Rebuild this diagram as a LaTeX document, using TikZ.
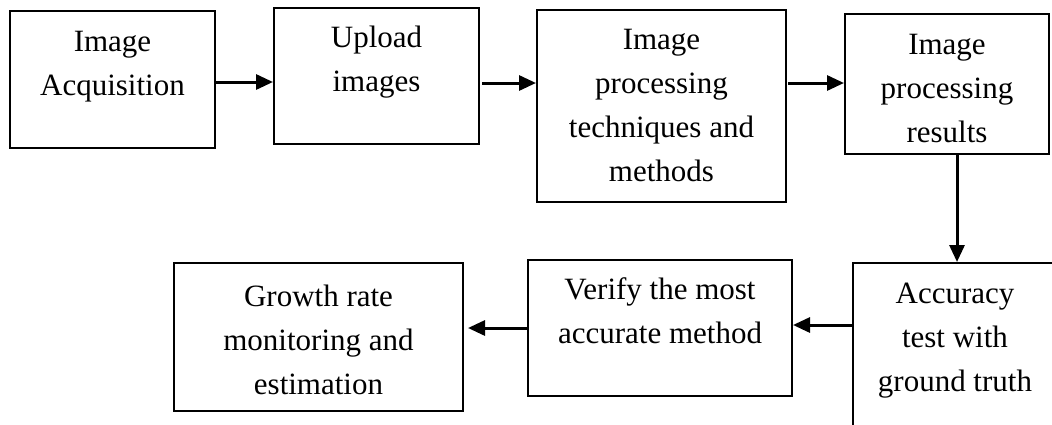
\documentclass[tikz,border=0pt]{standalone}
\usepackage{fontspec}
\setmainfont{Liberation Serif}
\usetikzlibrary{arrows.meta}
\tikzset{
  box/.style={draw, line width=2pt, rectangle, inner sep=0pt},
  lbl/.style={font=\fontsize{31}{44}\selectfont, align=center, anchor=north, inner sep=0pt},
  arr/.style={line width=3pt, -{Triangle[length=17pt,width=15pt]}},
}
\begin{document}
\begin{tikzpicture}[x=1pt,y=-1pt]
\useasboundingbox (0,0) rectangle (1052,424);
\clip (0,0) rectangle (1052,424);
% boxes
\node[box, minimum width=205pt, minimum height=137pt] (b1) at (112.5,79.5) {};
\node[box, minimum width=205pt, minimum height=136pt] (b2) at (376.5,76) {};
\node[box, minimum width=249pt, minimum height=192pt] (b3) at (661.5,106) {};
\node[box, minimum width=204pt, minimum height=140pt] (b4) at (947,84) {};
\node[box, minimum width=204pt, minimum height=177pt] (b5) at (955,351.5) {};
\node[box, minimum width=264pt, minimum height=136pt] (b6) at (660,328) {};
\node[box, minimum width=289pt, minimum height=148pt] (b7) at (318.5,337) {};
% texts
\node[lbl] (t1) at ([yshift=-10pt]b1.north) {\strut Image\\Acquisition};
\node[lbl] (t2) at ([yshift=-9pt]b2.north) {\strut Upload\\images};
\node[lbl] (t3) at ([yshift=-9pt]b3.north) {\strut Image\\processing\\techniques and\\methods};
\node[lbl] (t4) at ([yshift=-10pt]b4.north) {\strut Image\\processing\\results};
\node[lbl] (t5) at ([yshift=-10pt]b5.north) {\strut Accuracy\\test with\\ground truth};
\node[lbl] (t6) at ([yshift=-9pt]b6.north) {\strut Verify the most\\accurate method};
\node[lbl] (t7) at ([yshift=-13pt]b7.north) {\strut Growth rate\\monitoring and\\estimation};
% connectors
\draw[arr] (b1.east |- 0,82) -- (b2.west |- 0,82);
\draw[arr, shorten <=2pt] (b2.east |- 0,83) -- (b3.west |- 0,83);
\draw[arr, shorten <=1pt] (b3.east |- 0,83) -- (b4.west |- 0,83);
\draw[arr] (b4.south -| 957,0) -- (b5.north -| 957,0);
\draw[arr] (b5.west |- 0,325) -- (b6.east |- 0,325);
\draw[arr, shorten >=4pt] (b6.west |- 0,328) -- (b7.east |- 0,328);
\end{tikzpicture}
\end{document}
